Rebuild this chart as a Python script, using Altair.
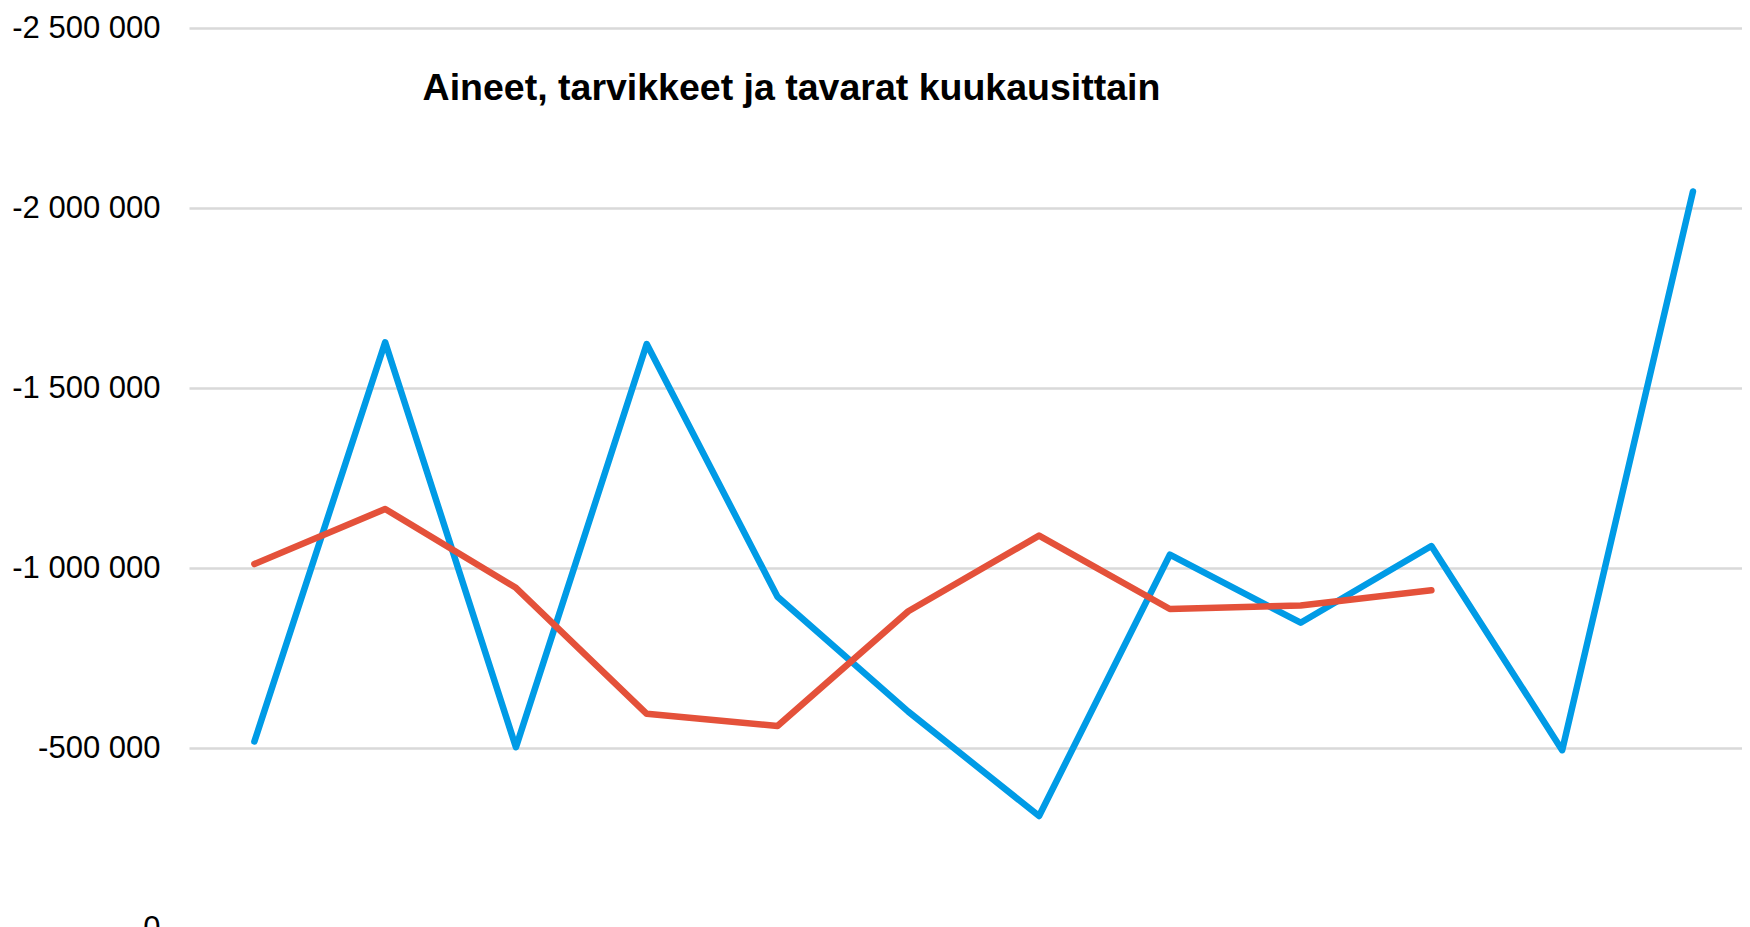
import altair as alt
import pandas as pd

months = ["tammi", "helmi", "maalis", "huhti", "touko", "kesä",
          "heinä", "elo", "syys", "loka", "marras", "joulu"]
series_a_name = "2023"
series_b_name = "2024"
series_a = [-518000, -1627000, -502000, -1622000, -920000, -601000,
            -311000, -1037000, -848000, -1061000, -494000, -2046000]
series_b = [-1011000, -1164000, -945000, -595000, -561000, -880000,
            -1090000, -886000, -896000, -938000]
y_ticks = [-2500000, -2000000, -1500000, -1000000, -500000, 0]

rows = []
for i, v in enumerate(series_a):
    rows.append({"kk": months[i], "nro": i + 1, "sarja": series_a_name, "arvo": v, "ord": 0})
for i, v in enumerate(series_b):
    rows.append({"kk": months[i], "nro": i + 1, "sarja": series_b_name, "arvo": v, "ord": 1})
df = pd.DataFrame(rows)

label_expr = ("(datum.value < 0 ? '-' : '') + "
              "replace(format(abs(datum.value), ',d'), /,/g, ' ')")

chart = alt.Chart(df).mark_line(
    strokeWidth=6.5, strokeCap="round", strokeJoin="round"
).encode(
    x=alt.X("nro:Q", axis=None,
            scale=alt.Scale(domain=[0.5, 12.375], nice=False, zero=False)),
    y=alt.Y("arvo:Q",
            scale=alt.Scale(domain=[-2500000, 0], reverse=True, nice=False, zero=False),
            axis=alt.Axis(values=y_ticks, title=None, labelExpr=label_expr,
                          labelFont="Liberation Sans", labelFontSize=31,
                          labelColor="#000000", labelPadding=29,
                          domain=False, ticks=False, grid=True,
                          gridColor="#D9D9D9", gridWidth=2.5)),
    color=alt.Color("sarja:N",
                    scale=alt.Scale(domain=[series_a_name, series_b_name],
                                    range=["#009BE6", "#E4513A"]),
                    legend=None),
    order=alt.Order("ord:Q"),
    tooltip=["kk:N", "sarja:N", "arvo:Q"],
).properties(
    width=1553,
    height=900,
    title=alt.TitleParams(
        "Aineet, tarvikkeet ja tavarat kuukausittain",
        font="Liberation Sans", fontSize=37.5, fontWeight="bold",
        color="#000000", anchor="middle", frame="group",
        dx=-174, dy=129, baseline="alphabetic"),
    autosize=alt.AutoSizeParams(type="none"),
    padding={"left": 181, "top": 20, "right": 0, "bottom": 20},
).configure_view(stroke=None)

chart.save("out.html", embed_options={"renderer": "svg", "actions": False})
